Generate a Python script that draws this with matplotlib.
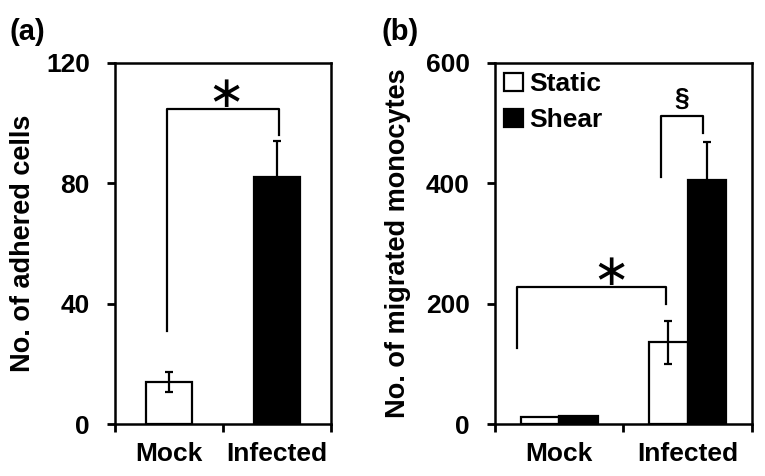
import matplotlib.pyplot as plt
import numpy as np

plt.rcParams['font.family'] = ['Liberation Sans', 'DejaVu Sans']
plt.rcParams['font.weight'] = 'bold'

# (a) adhered cells
groups = ['Mock', 'Infected']
adhered = [14, 82]
adhered_err = [3.4, 12]

# (b) migrated monocytes
static = [12, 136]
static_err = [0, 36]
shear = [14, 405]
shear_err = [0, 63]

fig = plt.figure(figsize=(7.65, 4.76), dpi=100)
ax1 = fig.add_axes([0.150, 0.109, 0.283, 0.759])
ax2 = fig.add_axes([0.647, 0.109, 0.336, 0.759])

pos = np.array([0.5, 1.5])
FS = 19


def style_axes(ax, ymax, yticks):
    ax.set_xlim(0, 2)
    ax.set_ylim(0, ymax)
    ax.set_yticks(yticks)
    ax.set_xticks([0, 1, 2])
    ax.set_xticklabels([])
    ax.set_xticks(pos, minor=True)
    ax.set_xticklabels(groups, minor=True)
    ax.tick_params(axis='x', which='minor', length=0, pad=13, labelsize=FS)
    ax.tick_params(axis='x', which='major', length=6, width=2, direction='out')
    ax.tick_params(axis='y', length=6, width=2, direction='out', labelsize=FS, pad=12)
    for s in ax.spines.values():
        s.set_linewidth(1.8)
    for lab in ax.get_yticklabels() + ax.get_xticklabels(minor=True):
        lab.set_fontweight('bold')


def star(ax, x, y):
    ax.text(x, y, '\u2217', ha='center', va='center', fontsize=32,
            fontweight='normal', family='DejaVu Sans')


# panel a
ax1.bar(pos, adhered, width=0.42, color=['white', 'black'], edgecolor='black', linewidth=1.6)
ax1.errorbar(pos, adhered, yerr=adhered_err, fmt='none', ecolor='black',
             elinewidth=1.6, capsize=3, capthick=1.6)
style_axes(ax1, 120, [0, 40, 80, 120])
ax1.set_ylabel('No. of adhered cells', fontsize=19.5, fontweight='bold', labelpad=7)
ax1.plot([0.48, 0.48, 1.52, 1.52], [31, 104.5, 104.5, 96], color='black', lw=1.6)
star(ax1, 1.03, 109.5)
fig.text(0.012, 0.915, '(a)', fontsize=21, fontweight='bold')

# panel b
w = 0.3
ax2.bar(pos - w / 2, static, width=w, color='white', edgecolor='black', linewidth=1.6, label='Static')
ax2.bar(pos + w / 2, shear, width=w, color='black', edgecolor='black', linewidth=1.6, label='Shear')
ax2.errorbar([pos[1] - w / 2], [static[1]], yerr=[static_err[1]], fmt='none', ecolor='black',
             elinewidth=1.6, capsize=3, capthick=1.6)
ax2.errorbar([pos[1] + w / 2], [shear[1]], yerr=[shear_err[1]], fmt='none', ecolor='black',
             elinewidth=1.6, capsize=3, capthick=1.6)
style_axes(ax2, 600, [0, 200, 400, 600])
ax2.set_ylabel('No. of migrated monocytes', fontsize=19.5, fontweight='bold', labelpad=11)
ax2.plot([0.17, 0.17, 1.33, 1.33], [126, 227, 227, 199], color='black', lw=1.6)
star(ax2, 0.9, 252)
ax2.plot([1.29, 1.29, 1.62, 1.62], [411, 511, 511, 483], color='black', lw=1.6)
ax2.text(1.455, 520, '§', ha='center', va='bottom', fontsize=19, fontweight='bold')
leg = ax2.legend(loc='upper left', bbox_to_anchor=(-0.025, 1.018), frameon=False,
                 fontsize=FS, handlelength=0.7, handleheight=0.7, handletextpad=0.25,
                 borderaxespad=0.2, labelspacing=0.45)
for t in leg.get_texts():
    t.set_fontweight('bold')
fig.text(0.499, 0.915, '(b)', fontsize=21, fontweight='bold')

fig.savefig('out.png', dpi=100)
